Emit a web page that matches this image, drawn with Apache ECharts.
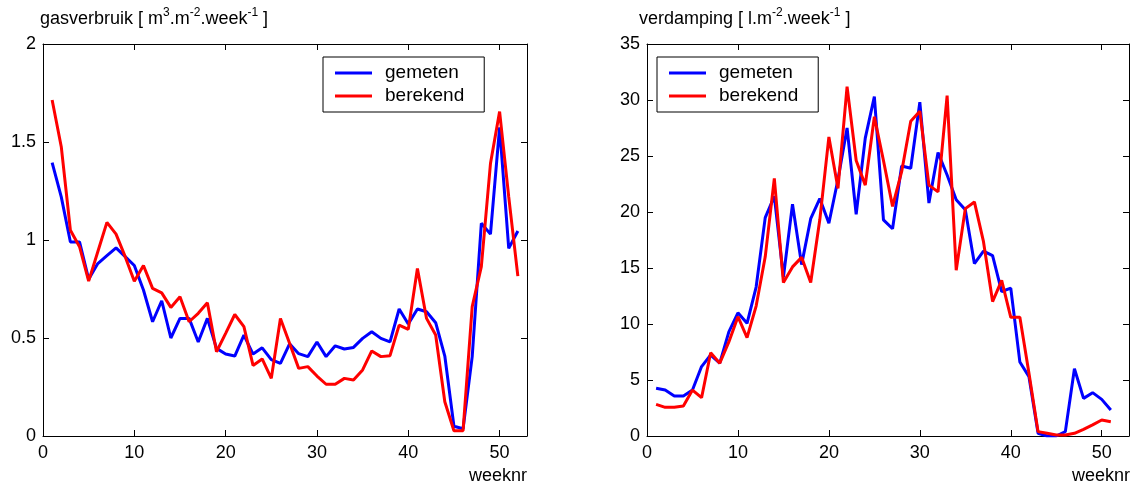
<!DOCTYPE html>
<html>
<head>
<meta charset="utf-8">
<title>gasverbruik / verdamping</title>
<script src="https://cdn.jsdelivr.net/npm/echarts@6/dist/echarts.min.js"></script>
<style>
    html, body { margin: 0; padding: 0; background: #fff; }
    #chart { width: 1136px; height: 489px; }
</style>
</head>
<body>
<div id="chart"></div>
<script>
// weeknummers
var weeksGas = [1, 2, 3, 4, 5, 6, 7, 8, 9, 10, 11, 12, 13, 14, 15, 16, 17, 18, 19, 20,
    21, 22, 23, 24, 25, 26, 27, 28, 29, 30, 31, 32, 33, 34, 35, 36, 37, 38, 39, 40,
    41, 42, 43, 44, 45, 46, 47, 48, 49, 50, 51, 52];
var weeksVerd = [1, 2, 3, 4, 5, 6, 7, 8, 9, 10, 11, 12, 13, 14, 15, 16, 17, 18, 19, 20,
    21, 22, 23, 24, 25, 26, 27, 28, 29, 30, 31, 32, 33, 34, 35, 36, 37, 38, 39, 40,
    41, 42, 43, 44, 45, 46, 47, 48, 49, 50, 51];

// gasverbruik [m3/m2/week]
var gasGemeten = [1.395, 1.22, 0.99, 0.99, 0.80, 0.88, 0.92, 0.96, 0.915, 0.87,
    0.745, 0.583, 0.69, 0.50, 0.60, 0.60, 0.48, 0.60, 0.447, 0.418,
    0.408, 0.515, 0.418, 0.45, 0.39, 0.37, 0.47, 0.42, 0.405, 0.48,
    0.405, 0.46, 0.444, 0.452, 0.498, 0.532, 0.498, 0.48, 0.648, 0.571,
    0.648, 0.634, 0.578, 0.408, 0.05, 0.037, 0.405, 1.085, 1.03, 1.575,
    0.957, 1.046];
var gasBerekend = [1.714, 1.476, 1.05, 0.966, 0.79, 0.94, 1.09, 1.03, 0.915, 0.79,
    0.87, 0.753, 0.73, 0.656, 0.71, 0.583, 0.626, 0.68, 0.43, 0.524,
    0.62, 0.558, 0.36, 0.393, 0.294, 0.60, 0.473, 0.345, 0.354, 0.306,
    0.264, 0.264, 0.294, 0.286, 0.337, 0.434, 0.405, 0.41, 0.566, 0.544,
    0.855, 0.60, 0.515, 0.175, 0.027, 0.027, 0.66, 0.864, 1.39, 1.655,
    1.22, 0.816];

// verdamping [l/m2/week]
var verdGemeten = [4.26, 4.1, 3.57, 3.57, 4.1, 6.2, 7.23, 6.5, 9.3, 11.0,
    10.06, 13.3, 19.5, 21.4, 14.2, 20.7, 15.3, 19.4, 21.2, 19.0,
    22.9, 27.5, 19.8, 26.6, 30.3, 19.3, 18.5, 24.1, 23.9, 29.8,
    20.8, 25.3, 23.3, 21.1, 20.2, 15.4, 16.5, 16.1, 12.9, 13.2,
    6.6, 5.3, 0.24, 0.0, 0.0, 0.39, 6.0, 3.36, 3.87, 3.27,
    2.32];
var verdBerekend = [2.83, 2.56, 2.56, 2.68, 4.1, 3.42, 7.44, 6.5, 8.4, 10.65,
    8.78, 11.6, 16.0, 23.0, 13.7, 15.1, 15.95, 13.7, 19.3, 26.7,
    22.1, 31.2, 24.6, 22.4, 28.5, 24.6, 20.5, 23.6, 28.1, 29.0,
    22.4, 21.8, 30.4, 14.8, 20.3, 20.9, 17.35, 12.0, 13.9, 10.6,
    10.6, 5.6, 0.39, 0.24, 0.09, 0.09, 0.24, 0.6, 1.0, 1.43,
    1.28];

var seriesNames = ['gemeten', 'berekend'];

(function() {
    'use strict';

    var FONT = 'Liberation Sans, Arial, sans-serif';
    var BLUE = '#0000ff';
    var RED = '#ff0000';

    function pairs(xs, ys) {
        return xs.map(function(x, i) { return [x, ys[i]]; });
    }

    var tickStyle = { show: true, inside: true, length: 6, lineStyle: { color: '#000', width: 1 } };
    var lineStyleAxis = { show: true, onZero: false, lineStyle: { color: '#000', width: 1 } };

    // x-as onder + boven (box zoals matlab)
    function xAxes(gridIndex) {
        var base = {
            type: 'value', gridIndex: gridIndex, min: 0, max: 53, interval: 10,
            axisLine: lineStyleAxis,
            axisTick: tickStyle,
            splitLine: { show: false }
        };
        var bottom = Object.assign({}, base, {
            position: 'bottom',
            axisLabel: {
                color: '#000', fontSize: 18, fontFamily: FONT, margin: 8,
                formatter: function(v) { return v % 10 === 0 ? String(v) : ''; }
            }
        });
        var top = Object.assign({}, base, {
            position: 'top',
            axisLabel: { show: false }
        });
        return [bottom, top];
    }

    function yAxes(gridIndex, max, step) {
        var base = {
            type: 'value', gridIndex: gridIndex, min: 0, max: max, interval: step,
            axisLine: lineStyleAxis,
            axisTick: tickStyle,
            splitLine: { show: false }
        };
        var left = Object.assign({}, base, {
            position: 'left',
            axisLabel: { color: '#000', fontSize: 18, fontFamily: FONT, margin: 7 }
        });
        var right = Object.assign({}, base, {
            position: 'right',
            axisLabel: { show: false }
        });
        return [left, right];
    }

    function lineSeries(name, color, xIdx, yIdx, data) {
        return {
            name: name, type: 'line', xAxisIndex: xIdx, yAxisIndex: yIdx,
            data: data, symbol: 'none', smooth: false, animation: false,
            lineStyle: { color: color, width: 3 },
            itemStyle: { color: color }
        };
    }

    // legenda: alleen een lijnstuk, geen marker
    function legend(left) {
        return {
            orient: 'vertical', left: left, top: 57,
            data: seriesNames,
            icon: 'rect',
            padding: [6, 20, 6, 12],
            itemWidth: 37, itemHeight: 3, itemGap: 3,
            borderColor: '#000', borderWidth: 1, backgroundColor: '#fff',
            textStyle: {
                color: '#000', fontSize: 19, fontFamily: FONT,
                lineHeight: 20, padding: [0, 0, 0, 8]
            }
        };
    }

    // titel met superscripts
    var rich = {
        a: { fontSize: 18, lineHeight: 24, fontFamily: FONT, color: '#000' },
        s: { fontSize: 12, lineHeight: 12, verticalAlign: 'top', fontFamily: FONT, color: '#000' }
    };

    function titleText(x, y, text) {
        return {
            type: 'text', left: x, top: y,
            style: { text: text, rich: rich, font: '18px ' + FONT }
        };
    }

    function axisName(right, text) {
        return {
            type: 'text', right: right, top: 467,
            style: { text: text, fontSize: 18, fontFamily: FONT, fill: '#000' }
        };
    }

    var chart = echarts.init(document.getElementById('chart'), null, { renderer: 'canvas' });

    var option = {
        backgroundColor: '#fff',
        animation: false,
        grid: [
            { left: 43, top: 44, width: 484, height: 392 },
            { left: 647, top: 44, width: 482, height: 392 }
        ],
        xAxis: xAxes(0).concat(xAxes(1)),
        yAxis: yAxes(0, 2, 0.5).concat(yAxes(1, 35, 5)),
        legend: [legend(323), legend(657)],
        graphic: [
            titleText(40, 7, '{a|gasverbruik [ m}{s|3}{a|.m}{s|-2}{a|.week}{s|-1}{a| ]}'),
            titleText(639, 7, '{a|verdamping [ l.m}{s|-2}{a|.week}{s|-1}{a| ]}'),
            axisName(1136 - 527, 'weeknr'),
            axisName(1136 - 1130, 'weeknr')
        ],
        series: [
            lineSeries('gemeten', BLUE, 0, 0, pairs(weeksGas, gasGemeten)),
            lineSeries('berekend', RED, 0, 0, pairs(weeksGas, gasBerekend)),
            lineSeries('gemeten', BLUE, 2, 2, pairs(weeksVerd, verdGemeten)),
            lineSeries('berekend', RED, 2, 2, pairs(weeksVerd, verdBerekend))
        ]
    };

    chart.setOption(option);
})();
</script>
</body>
</html>
